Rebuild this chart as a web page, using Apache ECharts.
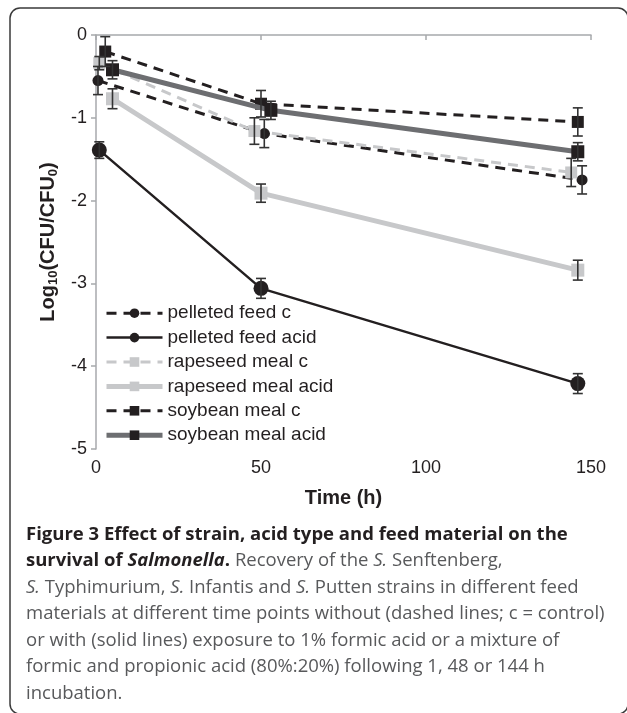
<!DOCTYPE html>
<html>
<head>
<meta charset="utf-8">
<script src="https://cdn.jsdelivr.net/npm/echarts@6/dist/echarts.min.js"></script>
<style>
html,body{margin:0;padding:0;background:#fff;}
#chart{width:627px;height:713px;}
</style>
</head>
<body>
<div id="chart"></div>
<script>
// ---- data ----
const seriesNames = ['pelleted feed c', 'pelleted feed acid', 'rapeseed meal c', 'rapeseed meal acid', 'soybean meal c', 'soybean meal acid'];
const pelletedC_time = [0.6, 51, 147.3];
const pelletedC_val = [-0.55, -1.19, -1.75];
const pelletedC_err = [0.17, 0.17, 0.17];
const pelletedAcid_time = [1, 50, 146];
const pelletedAcid_val = [-1.39, -3.06, -4.21];
const pelletedAcid_err = [0.10, 0.12, 0.12];
const rapeseedC_time = [1, 48, 144];
const rapeseedC_val = [-0.34, -1.16, -1.66];
const rapeseedC_err = [0.08, 0.16, 0.17];
const rapeseedAcid_time = [5, 50, 146];
const rapeseedAcid_val = [-0.77, -1.91, -2.84];
const rapeseedAcid_err = [0.12, 0.11, 0.12];
const soybeanC_time = [2.8, 50, 146];
const soybeanC_val = [-0.20, -0.83, -1.05];
const soybeanC_err = [0.18, 0.16, 0.17];
const soybeanAcid_time = [5, 53, 146];
const soybeanAcid_val = [-0.42, -0.91, -1.41];
const soybeanAcid_err = [0.11, 0.11, 0.11];
const xTicks = [0, 50, 100, 150];
const yTicks = [0, -1, -2, -3, -4, -5];

const captionLines = [
  '{b|Figure 3 Effect of strain, acid type and feed material on the}',
  '{b|survival of }{bi|Salmonella}{b|.}{r| Recovery of the }{i|S.}{r| Senftenberg,}',
  '{i|S.}{r| Typhimurium, }{i|S.}{r| Infantis and }{i|S.}{r| Putten strains in different feed}',
  '{r|materials at different time points without (dashed lines; c = control)}',
  '{r|or with (solid lines) exposure to 1% formic acid or a mixture of}',
  '{r|formic and propionic acid (80%:20%) following 1, 48 or 144 h}',
  '{r|incubation.}'
];

// ---- build ----
const BLACK = '#231f20', DARK = '#6d6e71', LIGHT = '#c7c8ca';
const groups = [
  {t: pelletedC_time, v: pelletedC_val, e: pelletedC_err, line: BLACK, mk: BLACK, dash: [10, 7], w: 3, sym: 'circle', size: 11},
  {t: pelletedAcid_time, v: pelletedAcid_val, e: pelletedAcid_err, line: BLACK, mk: BLACK, dash: 'solid', w: 2.5, sym: 'circle', size: 15},
  {t: rapeseedC_time, v: rapeseedC_val, e: rapeseedC_err, line: LIGHT, mk: LIGHT, dash: [10, 7], w: 3, sym: 'rect', size: 12},
  {t: rapeseedAcid_time, v: rapeseedAcid_val, e: rapeseedAcid_err, line: LIGHT, mk: LIGHT, dash: 'solid', w: 5, sym: 'rect', size: 13},
  {t: soybeanC_time, v: soybeanC_val, e: soybeanC_err, line: BLACK, mk: BLACK, dash: [10, 7], w: 3, sym: 'rect', size: 12},
  {t: soybeanAcid_time, v: soybeanAcid_val, e: soybeanAcid_err, line: DARK, mk: BLACK, dash: 'solid', w: 5, sym: 'rect', size: 13}
];

const series = [];
const errData = [];
const legendData = [];
groups.forEach((g, i) => {
  series.push({
    name: seriesNames[i],
    type: 'line',
    data: g.t.map((t, k) => [t, g.v[k]]),
    symbol: g.sym,
    symbolSize: g.size,
    lineStyle: {color: g.line, width: g.w, type: g.dash},
    itemStyle: {color: g.mk, borderWidth: 0},
    z: 2 + (i === 5 ? 1 : 0),
    animation: false
  });
  legendData.push({name: seriesNames[i], lineStyle: {width: g.w, color: g.line, type: g.dash}});
  g.t.forEach((t, k) => errData.push([t, g.v[k] - g.e[k], g.v[k] + g.e[k]]));
});
series.push({
  type: 'custom',
  name: 'err',
  data: errData,
  z: 5,
  animation: false,
  renderItem: function (params, api) {
    const x = api.value(0);
    const lo = api.coord([x, api.value(1)]);
    const hi = api.coord([x, api.value(2)]);
    const cw = 5;
    const st = {stroke: '#333', lineWidth: 1.6};
    return {
      type: 'group',
      children: [
        {type: 'line', shape: {x1: lo[0], y1: lo[1], x2: hi[0], y2: hi[1]}, style: st},
        {type: 'line', shape: {x1: lo[0] - cw, y1: lo[1], x2: lo[0] + cw, y2: lo[1]}, style: st},
        {type: 'line', shape: {x1: hi[0] - cw, y1: hi[1], x2: hi[0] + cw, y2: hi[1]}, style: st}
      ]
    };
  }
});

const CF = 18.5;
const capGraphics = captionLines.map((ln, i) => ({
  type: 'text',
  x: 26,
  y: 534.5 + i * 26.5,
  style: {
    text: ln,
    verticalAlign: 'middle',
    rich: {
      b: {fontFamily: 'Open Sans', fontWeight: 'bold', fontSize: CF, fill: BLACK},
      bi: {fontFamily: 'Open Sans', fontWeight: 'bold', fontStyle: 'italic', fontSize: CF, fill: BLACK},
      r: {fontFamily: 'Open Sans', fontSize: CF, fill: '#58595b'},
      i: {fontFamily: 'Open Sans', fontStyle: 'italic', fontSize: CF, fill: '#58595b'}
    }
  }
}));

const chart = echarts.init(document.getElementById('chart'), null, {renderer: 'canvas'});
chart.setOption({
  animation: false,
  backgroundColor: '#fff',
  grid: {left: 96, right: 36, top: 35, bottom: 264, containLabel: false},
  xAxis: {
    type: 'value', min: xTicks[0], max: xTicks[xTicks.length - 1], interval: xTicks[1] - xTicks[0],
    name: 'Time (h)', nameLocation: 'middle', nameGap: 39,
    nameTextStyle: {fontFamily: 'Liberation Sans', fontWeight: 'bold', fontSize: 20, color: BLACK},
    axisLine: {lineStyle: {color: '#a7a9ac', width: 1.5}},
    axisTick: {show: true, length: 5, lineStyle: {color: '#a7a9ac', width: 1.5}},
    axisLabel: {fontFamily: 'Liberation Sans', fontSize: 18, color: BLACK, margin: 10},
    splitLine: {show: false}
  },
  yAxis: {
    type: 'value', min: yTicks[yTicks.length - 1], max: yTicks[0], interval: 1,
    name: '{a|Log}{s|10}{a|(CFU/CFU}{s|0}{a|)}', nameLocation: 'middle', nameGap: 31,
    nameTextStyle: {
      rich: {
        a: {fontFamily: 'Liberation Sans', fontWeight: 'bold', fontSize: 20, color: BLACK, lineHeight: 24},
        s: {fontFamily: 'Liberation Sans', fontWeight: 'bold', fontSize: 13, color: BLACK, lineHeight: 12, verticalAlign: 'bottom'}
      }
    },
    axisLine: {show: true, lineStyle: {color: '#a7a9ac', width: 1.5}},
    axisTick: {show: true, length: 5, lineStyle: {color: '#a7a9ac', width: 1.5}},
    axisLabel: {fontFamily: 'Liberation Sans', fontSize: 18, color: BLACK, margin: 9},
    splitLine: {show: false}
  },
  legend: {
    orient: 'vertical', left: 104, top: 303.7, padding: 0,
    itemWidth: 56, itemHeight: 12, itemGap: 5.4,
    data: legendData,
    textStyle: {fontFamily: 'Liberation Sans', fontSize: 19, color: BLACK, lineHeight: 18, padding: 0}
  },
  graphic: [
    {type: 'rect', shape: {x: 10, y: 8, width: 618, height: 706, r: 10}, style: {fill: 'none', stroke: '#3a3a3a', lineWidth: 1.5}, silent: true}
  ].concat(capGraphics),
  series: series
});
</script>
</body>
</html>
